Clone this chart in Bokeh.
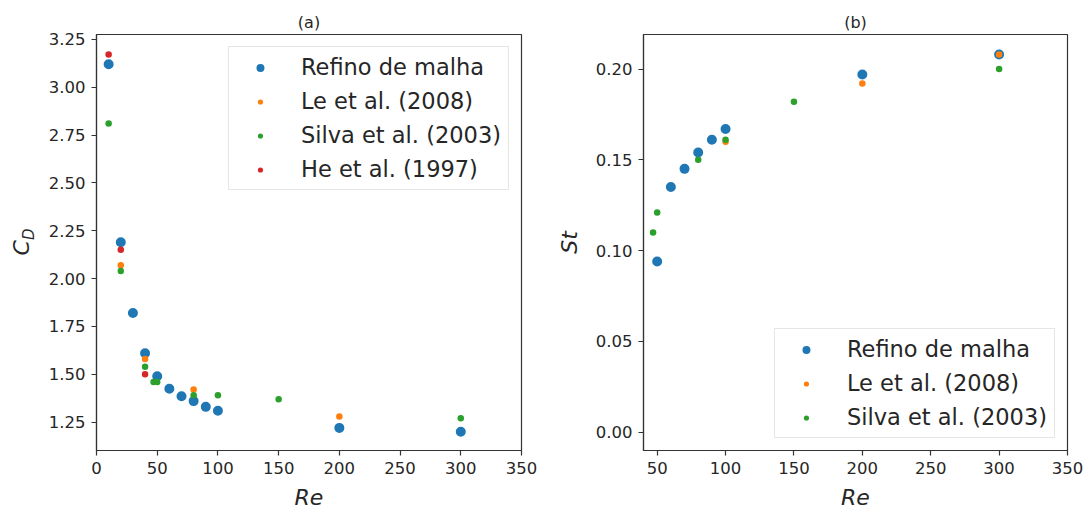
from bokeh.embed import file_html
from bokeh.layouts import row
from bokeh.models import (Div, FixedTicker, Legend, LegendItem,
                          NumeralTickFormatter, Range1d)
from bokeh.plotting import figure
from bokeh.resources import INLINE

# ---- (a) drag coefficient C_D versus Re ----
re_mesh_cd = [10, 20, 30, 40, 50, 60, 70, 80, 90, 100, 200, 300]
cd_mesh = [3.12, 2.19, 1.82, 1.61, 1.49, 1.425, 1.385, 1.36, 1.33, 1.31, 1.22, 1.20]
re_le_cd = [20, 40, 80, 200]
cd_le = [2.07, 1.58, 1.42, 1.28]
re_silva_cd = [10, 20, 40, 47, 50, 80, 100, 150, 300]
cd_silva = [2.81, 2.04, 1.54, 1.46, 1.46, 1.39, 1.39, 1.37, 1.27]
re_he_cd = [10, 20, 40]
cd_he = [3.17, 2.15, 1.50]

# ---- (b) Strouhal number St versus Re ----
re_mesh_st = [50, 60, 70, 80, 90, 100, 200, 300]
st_mesh = [0.094, 0.135, 0.145, 0.154, 0.161, 0.167, 0.197, 0.208]
re_le_st = [100, 200, 300]
st_le = [0.160, 0.192, 0.208]
re_silva_st = [47, 50, 80, 100, 150, 300]
st_silva = [0.110, 0.121, 0.150, 0.161, 0.182, 0.200]

# axis limits and tick positions
xlim_a, ylim_a = (0, 350), (1.102, 3.275)
xlim_b, ylim_b = (40, 350), (-0.0101, 0.219)
xticks_a = [0, 50, 100, 150, 200, 250, 300, 350]
yticks_a = [1.25, 1.50, 1.75, 2.00, 2.25, 2.50, 2.75, 3.00, 3.25]
xticks_b = [50, 100, 150, 200, 250, 300, 350]
yticks_b = [0.00, 0.05, 0.10, 0.15, 0.20]

LBL_MESH = "Refino de malha"
LBL_LE = "Le et al. (2008)"
LBL_SILVA = "Silva et al. (2003)"
LBL_HE = "He et al. (1997)"

FONT = "DejaVu Sans"
TXT = "#262626"
AX = "#333333"
BLUE, ORANGE, GREEN, RED = "#1f77b4", "#ff7f0e", "#2ca02c", "#d62728"

LABEL_COL_W = 45  # width of the strip holding the rotated C_D label


def style(p, xticks, yticks):
    p.xgrid.visible = False
    p.ygrid.visible = False
    p.outline_line_color = AX
    p.outline_line_width = 1.2
    p.background_fill_color = "white"
    p.border_fill_color = "white"
    p.xaxis.ticker = FixedTicker(ticks=xticks)
    p.yaxis.ticker = FixedTicker(ticks=yticks)
    p.yaxis.formatter = NumeralTickFormatter(format="0.00")
    for ax in (p.xaxis[0], p.yaxis[0]):
        ax.axis_line_color = AX
        ax.axis_line_width = 1.2
        ax.major_tick_line_color = AX
        ax.major_tick_line_width = 1.2
        ax.major_tick_out = 5
        ax.major_tick_in = 0
        ax.minor_tick_line_color = None
        ax.major_label_text_font = FONT
        ax.major_label_text_font_size = "16.5px"
        ax.major_label_text_color = TXT
        ax.major_label_standoff = 6
        ax.axis_label_text_font = FONT
        ax.axis_label_text_font_size = "22px"
        ax.axis_label_text_font_style = "italic"
        ax.axis_label_text_color = TXT
    p.title.align = "center"
    p.title.text_font = FONT
    p.title.text_font_size = "16px"
    p.title.text_font_style = "normal"
    p.title.text_color = TXT
    p.title.standoff = 6


def scatter_series(p, xs, ys, color, big):
    # The large series gets a thick same-colour rim: 7.2 + 2.8 = 10 px on
    # the plot, while its legend swatch stays a little larger than the rest.
    if big:
        return p.scatter(xs, ys, size=7.2, fill_color=color,
                         line_color=color, line_width=2.8)
    return p.scatter(xs, ys, size=6.5, fill_color=color, line_color=None)


def add_legend(p, entries, location):
    leg = Legend(items=[LegendItem(label=lab, renderers=[r]) for lab, r in entries],
                 location=location)
    leg.label_text_font = FONT
    leg.label_text_font_size = "22.5px"
    leg.label_text_color = TXT
    leg.glyph_width = 48
    leg.glyph_height = 13
    leg.label_height = 26
    leg.label_standoff = 17
    leg.spacing = 8
    leg.padding = 7
    leg.margin = 12
    leg.border_line_color = "#cccccc"
    leg.border_line_width = 1
    leg.background_fill_alpha = 0.8
    p.add_layout(leg)


# ---------------- y label of panel (a): C with subscript D ----------------
cd_label = Div(
    width=LABEL_COL_W, height=512, margin=0,
    text=(
        f'<span style="position:absolute; left:22px; top:242px; '
        f'transform:translate(-50%,-50%) rotate(-90deg); white-space:nowrap; '
        f'font-family:\'{FONT}\'; font-style:italic; font-size:22px; color:{TXT}; '
        f'line-height:1;">C<span style="font-size:15px; position:relative; '
        f'top:5px;">D</span></span>'
    ),
    styles={"position": "relative", "overflow": "visible"},
)

# ---------------- panel (a) ----------------
pa = figure(width=547 - LABEL_COL_W, height=512, title="(a)",
            x_range=Range1d(*xlim_a), y_range=Range1d(*ylim_a),
            min_border_left=96 - LABEL_COL_W, min_border_right=26,
            min_border_top=34, min_border_bottom=62,
            output_backend="svg", toolbar_location=None)
style(pa, xticks_a, yticks_a)
pa.xaxis.axis_label = "Re"
pa.xaxis.axis_label_standoff = 8

ra1 = scatter_series(pa, re_mesh_cd, cd_mesh, BLUE, True)
ra2 = scatter_series(pa, re_le_cd, cd_le, ORANGE, False)
ra3 = scatter_series(pa, re_silva_cd, cd_silva, GREEN, False)
ra4 = scatter_series(pa, re_he_cd, cd_he, RED, False)

add_legend(pa, [(LBL_MESH, ra1), (LBL_LE, ra2), (LBL_SILVA, ra3), (LBL_HE, ra4)],
           "top_right")

# ---------------- panel (b) ----------------
pb = figure(width=541, height=512, title="(b)",
            x_range=Range1d(*xlim_b), y_range=Range1d(*ylim_b),
            min_border_left=96, min_border_right=21,
            min_border_top=34, min_border_bottom=62,
            output_backend="svg", toolbar_location=None)
style(pb, xticks_b, yticks_b)
pb.xaxis.axis_label = "Re"
pb.xaxis.axis_label_standoff = 8
pb.yaxis.axis_label = "St"
pb.yaxis.axis_label_standoff = 11

rb1 = scatter_series(pb, re_mesh_st, st_mesh, BLUE, True)
rb2 = scatter_series(pb, re_le_st, st_le, ORANGE, False)
rb3 = scatter_series(pb, re_silva_st, st_silva, GREEN, False)

add_legend(pb, [(LBL_MESH, rb1), (LBL_LE, rb2), (LBL_SILVA, rb3)], "bottom_right")

layout = row(cd_label, pa, pb)
open("out.html", "w").write(file_html(layout, INLINE, title="C_D e St versus Re"))
